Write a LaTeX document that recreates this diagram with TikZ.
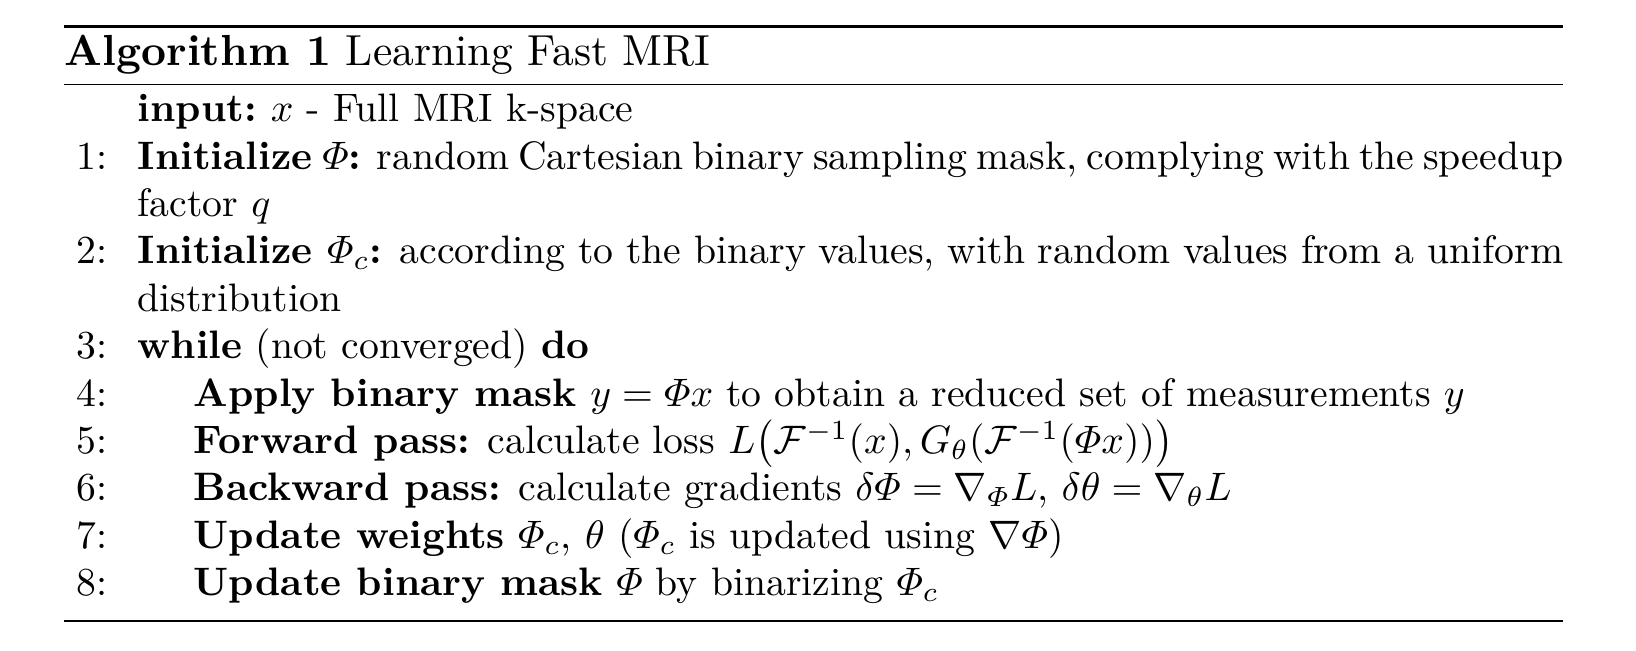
\documentclass[tikz,border=0pt]{standalone}
\usepackage{amsmath,amssymb}
\usepackage{tikz}
\usetikzlibrary{positioning}

\begin{document}
\begin{tikzpicture}[
    x=0.2519pt, y=-0.2519pt,
    num/.style={anchor=base east, inner sep=0pt},
    txt/.style={anchor=base west, inner sep=0pt},
]
    \useasboundingbox (0,0) rectangle (1636,650);

    % Rules
    \draw[line width=0.8pt] (64,26.5) -- (1562.7,26.5);
    \draw[line width=0.4pt] (64,84.3) -- (1562.7,84.3);
    \draw[line width=0.4pt] (64,620.7) -- (1562.7,620.7);

    % Caption
    \node[txt, font=\fontsize{10.95}{13.6}\selectfont] (title) at (64,65) {\textbf{Algorithm 1} Learning Fast MRI};

    % Input
    \node[txt] (input) at (137,121.7) {\textbf{input:}\hspace{3.5pt}$x$ - Full MRI k-space};

    % Initialization
    \node[num] (n1) at (108,169.1) {1:};
    \node[txt] (l1) at (137,169.1) {\makebox[359.1pt][s]{\textbf{Initialize $\varPhi$:} random Cartesian binary sampling mask, complying with the speedup}};
    \node[txt] (l1b) at (137,216.5) {factor $q$};
    \node[num] (n2) at (108,263.9) {2:};
    \node[txt] (l2) at (137,263.9) {\makebox[359.1pt][s]{\textbf{Initialize $\varPhi_c$:} according to the binary values, with random values from a uniform}};
    \node[txt] (l2b) at (137,311.3) {distribution};

    % Loop
    \node[num] (n3) at (108,358.7) {3:};
    \node[txt] (l3) at (137,358.7) {\textbf{while} (not converged) \textbf{do}};
    \node[num] (n4) at (108,406.1) {4:};
    \node[txt] (l4) at (193,406.1) {\textbf{Apply binary mask} $y=\varPhi x$ to obtain a reduced set of measurements $y$};
    \node[num] (n5) at (108,453.5) {5:};
    \node[txt] (l5) at (193,453.5) {\textbf{Forward pass:} calculate loss $L\bigl(\mathcal{F}^{-1}(x),G_\theta(\mathcal{F}^{-1}(\varPhi x))\bigr)$};
    \node[num] (n6) at (108,500.9) {6:};
    \node[txt] (l6) at (193,500.9) {\textbf{Backward pass:} calculate gradients $\delta\varPhi=\nabla_{\varPhi}L$, $\delta\theta=\nabla_\theta L$};
    \node[num] (n7) at (108,548.3) {7:};
    \node[txt] (l7) at (193,548.3) {\textbf{Update weights} $\varPhi_c$, $\theta$ ($\varPhi_c$ is updated using $\nabla\varPhi$)};
    \node[num] (n8) at (108,595.7) {8:};
    \node[txt] (l8) at (193,595.7) {\textbf{Update binary mask} $\varPhi$ by binarizing $\varPhi_c$};
\end{tikzpicture}
\end{document}
